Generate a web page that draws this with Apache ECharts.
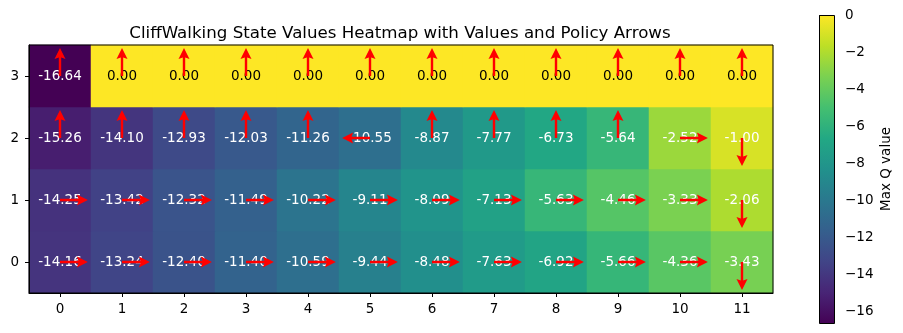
<!DOCTYPE html>
<html>
<head>
<meta charset="utf-8">
<script src="https://cdn.jsdelivr.net/npm/echarts@6/dist/echarts.min.js"></script>
<style>html,body{margin:0;padding:0;background:#fff}#c{width:903px;height:333px}</style>
</head>
<body>
<div id="c"></div>
<script>
const xLabels = ['0','1','2','3','4','5','6','7','8','9','10','11'];
const yLabels = ['0','1','2','3'];
const row0 = [-14.16, -13.24, -12.40, -11.40, -10.59, -9.44, -8.48, -7.63, -6.92, -5.66, -4.36, -3.43];
const row1 = [-14.25, -13.42, -12.32, -11.49, -10.22, -9.11, -8.09, -7.13, -5.63, -4.46, -3.33, -2.06];
const row2 = [-15.26, -14.10, -12.93, -12.03, -11.26, -10.55, -8.87, -7.77, -6.73, -5.64, -2.52, -1.00];
const row3 = [-16.64, 0.00, 0.00, 0.00, 0.00, 0.00, 0.00, 0.00, 0.00, 0.00, 0.00, 0.00];
const policy0 = ['R','R','R','R','R','R','R','R','R','R','R','D'];
const policy1 = ['R','R','R','R','R','R','R','R','R','R','R','D'];
const policy2 = ['U','U','U','U','U','L','U','U','U','U','R','D'];
const policy3 = ['U','U','U','U','U','U','U','U','U','U','U','U'];
const cbTicks = [0, -2, -4, -6, -8, -10, -12, -14, -16];
const vMin = -16.64, vMax = 0;

const viridis = ['#440154','#482475','#414487','#355f8d','#2a788e','#21918c','#22a884','#44bf70','#7ad151','#bddf26','#fde725'];

const rows = [row0, row1, row2, row3];
const pols = [policy0, policy1, policy2, policy3];
const heatData = [];
const arrowData = [];
rows.forEach((r, y) => r.forEach((v, x) => {
  heatData.push({value: [x, y, v], label: {color: v === 0 ? '#000' : '#fff'}});
}));
pols.forEach((r, y) => r.forEach((d, x) => arrowData.push([x, y, d])));

const FONT = 'DejaVu Sans';
const FS = 13.5;
const chart = echarts.init(document.getElementById('c'), null, {renderer: 'canvas'});

const dirs = {U: [0, -1], D: [0, 1], L: [-1, 0], R: [1, 0]};

chart.setOption({
  animation: false,
  textStyle: {fontFamily: FONT},
  title: {
    text: 'CliffWalking State Values Heatmap with Values and Policy Arrows',
    left: 395, textAlign: 'center', top: 20,
    textStyle: {fontFamily: FONT, fontSize: 16.67, fontWeight: 'normal', color: '#000'}
  },
  grid: [
    {left: 29, top: 45, width: 744, height: 248, show: true, borderColor: '#000', borderWidth: 1, backgroundColor: 'transparent', z: 5},
    {left: 819, top: 15, width: 15, height: 308, show: false}
  ],
  xAxis: [
    {type: 'category', data: xLabels, gridIndex: 0,
     axisLine: {show: true, lineStyle: {color: '#000', width: 1}},
     axisTick: {show: true, alignWithLabel: true, length: 4, lineStyle: {color: '#000'}},
     axisLabel: {color: '#000', fontSize: FS, fontFamily: FONT, margin: 9},
     splitLine: {show: false}, z: 5},
    {type: 'value', gridIndex: 1, show: false, min: 0, max: 1}
  ],
  yAxis: [
    {type: 'category', data: yLabels, gridIndex: 0,
     axisLine: {show: true, lineStyle: {color: '#000', width: 1}},
     axisTick: {show: true, alignWithLabel: true, length: 4, lineStyle: {color: '#000'}},
     axisLabel: {color: '#000', fontSize: FS, fontFamily: FONT, margin: 10},
     splitLine: {show: false}, z: 5},
    {type: 'value', gridIndex: 1, position: 'right', min: vMin, max: vMax,
     axisLine: {show: false},
     axisTick: {show: true, length: 4, lineStyle: {color: '#000'}, customValues: cbTicks},
     axisLabel: {color: '#000', fontSize: FS, fontFamily: FONT, margin: 11, customValues: cbTicks,
       formatter: v => String(v).replace('-', '\u2212')},
     splitLine: {show: false},
     name: 'Max Q value', nameLocation: 'middle', nameRotate: 90, nameGap: 45,
     nameTextStyle: {color: '#000', fontSize: FS, fontFamily: FONT}}
  ],
  visualMap: {
    type: 'continuous', show: false, min: vMin, max: vMax, dimension: 2, seriesIndex: 0,
    inRange: {color: viridis}
  },
  graphic: [{
    type: 'rect', left: 819, top: 15, z: 1,
    shape: {x: 0, y: 0, width: 15, height: 308},
    style: {
      fill: new echarts.graphic.LinearGradient(0, 1, 0, 0, viridis.map((c, i) => ({offset: i / (viridis.length - 1), color: c}))),
      stroke: '#000', lineWidth: 1
    }
  }],
  series: [
    {type: 'heatmap', xAxisIndex: 0, yAxisIndex: 0, data: heatData,
     label: {show: true, fontSize: FS, fontFamily: FONT, formatter: p => p.value[2].toFixed(2)},
     itemStyle: {borderWidth: 0},
     emphasis: {disabled: true}, z: 2},
    {type: 'custom', xAxisIndex: 0, yAxisIndex: 0, data: arrowData, z: 4, silent: true,
     renderItem: (params, api) => {
       const c = api.coord([api.value(0), api.value(1)]);
       const sz = api.size([1, 1]);
       const d = dirs[arrowData[params.dataIndex][2]];
       const L = 0.45 * sz[0];
       const hl = 11, hw = 5.5, sw = 1.2;
       const p = [-d[1], d[0]];
       const tip = [c[0] + d[0] * L, c[1] + d[1] * L];
       const b = [tip[0] - d[0] * hl, tip[1] - d[1] * hl];
       const nb = [tip[0] - d[0] * (hl - 1.5), tip[1] - d[1] * (hl - 1.5)];
       const pts = [
         [c[0] + p[0] * sw, c[1] + p[1] * sw],
         [nb[0] + p[0] * sw, nb[1] + p[1] * sw],
         [b[0] + p[0] * hw, b[1] + p[1] * hw],
         tip,
         [b[0] - p[0] * hw, b[1] - p[1] * hw],
         [nb[0] - p[0] * sw, nb[1] - p[1] * sw],
         [c[0] - p[0] * sw, c[1] - p[1] * sw]
       ];
       return {type: 'polygon', shape: {points: pts}, style: {fill: '#ff0000', stroke: null}};
     }}
  ]
});
</script>
</body>
</html>
